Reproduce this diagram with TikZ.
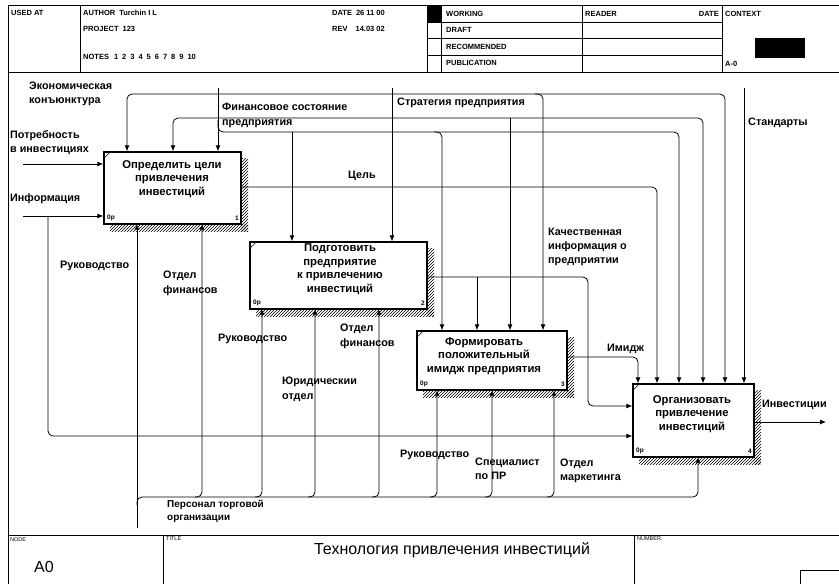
\documentclass[tikz,border=0pt]{standalone}
\usepackage{fontspec}
\setmainfont{Liberation Sans}
\usetikzlibrary{arrows.meta,patterns}
\begin{document}
\begin{tikzpicture}[x=1pt,y=-1pt,
  frame/.style={line width=0.8pt},
  fbox/.style={draw, line width=1.3pt, fill=white, inner sep=0pt},
  btxt/.style={font=\fontsize{11.3}{13.5}\selectfont\bfseries, align=center, inner sep=0pt},
  lbl/.style={font=\fontsize{10.8}{14}\selectfont\bfseries, align=left, inner sep=0pt, anchor=north west},
  hdr/.style={font=\fontsize{7.5}{8}\selectfont\bfseries, inner sep=0pt, anchor=west},
  tiny/.style={font=\fontsize{5.5}{6}\selectfont, inner sep=0pt, anchor=north west},
  small/.style={font=\fontsize{6.5}{7}\selectfont\bfseries, inner sep=0pt},
  conn/.style={line width=0.8pt, rounded corners=5pt},
  arr/.style={conn, -{Latex[length=6pt,width=5pt]}},
  marr/.style={conn, -{Latex[length=5pt,width=5pt]}},
  shad/.style={pattern=north east lines},
]
\useasboundingbox (0,0) rectangle (839,584);

% ---------- header ----------
\draw[frame] (8,5) -- (839,5);
\draw[frame] (8,5) -- (8,584);
\draw[frame] (8,72) -- (839,72);
\draw[frame] (80,5) -- (80,72);
\draw[frame] (427,5) -- (427,72);
\draw[frame] (441,5) -- (441,72);
\draw[frame] (582,5) -- (582,72);
\draw[frame] (722,5) -- (722,72);
\foreach \yy in {22,38,55} \draw[frame] (427,\yy) -- (722,\yy);
\fill (428,6) rectangle (441,22);
\fill (755,38) rectangle (805,58);

\node[hdr] (usedat) at (11,13) {USED AT};
\node[hdr] (author) at (83,13) {AUTHOR\hspace{4pt}Turchin I L};
\node[hdr] (project) at (83,29) {PROJECT\hspace{4pt}123};
\node[hdr] (notes) at (83,57) {NOTES\hspace{5pt}1\hspace{4pt}2\hspace{4pt}3\hspace{4pt}4\hspace{4pt}5\hspace{4pt}6\hspace{4pt}7\hspace{4pt}8\hspace{4pt}9\hspace{4pt}10};
\node[hdr] (date) at (332,13) {DATE\hspace{4pt}26 11 00};
\node[hdr] (rev) at (332,29) {REV\hspace{8pt}14.03 02};
\node[hdr] (working) at (446,14) {WORKING};
\node[hdr] (draft) at (446,30) {DRAFT};
\node[hdr] (recom) at (446,46.5) {RECOMMENDED};
\node[hdr] (publ) at (446,63) {PUBLICATION};
\node[hdr] (reader) at (585,14) {READER};
\node[hdr, anchor=east] (rdate) at (719,14) {DATE};
\node[hdr] (context) at (725,14) {CONTEXT};
\node[hdr] (ctxnode) at (725,64) {A-0};

% ---------- footer ----------
\draw[frame] (8,535) -- (839,535);
\draw[frame] (163,535) -- (163,584);
\draw[frame] (634,535) -- (634,584);
\draw[frame] (800,584) -- (800,570) -- (839,570);
\node[tiny] (nodel) at (10,537) {NODE};
\node[font=\fontsize{16}{18}\selectfont, inner sep=0pt] (a0) at (44,567) {A0};
\node[tiny] (titlel) at (166,537) {TITLE};
\node[font=\fontsize{16}{18}\selectfont, inner sep=0pt] (title) at (452,550) {Технология привлечения инвестиций};
\node[tiny] (numberl) at (637,537) {NUMBER.};

% ---------- shadows ----------
\fill[shad] (241,158) rectangle (248,231);
\fill[shad] (110,224) rectangle (248,231);
\fill[shad] (427,248) rectangle (434,316);
\fill[shad] (256,309) rectangle (434,316);
\fill[shad] (567,337) rectangle (574,397);
\fill[shad] (423,390) rectangle (574,397);
\fill[shad] (754,390) rectangle (761,464);
\fill[shad] (639,457) rectangle (761,464);

% ---------- boxes ----------
\node[fbox, minimum width=137pt, minimum height=72pt] (b1) at (172.5,188) {};
\node[fbox, minimum width=177pt, minimum height=67pt] (b2) at (338.5,275.5) {};
\node[fbox, minimum width=150pt, minimum height=59pt] (b3) at (492,360.5) {};
\node[fbox, minimum width=121pt, minimum height=73pt] (b4) at (693.5,420.5) {};

\foreach \bx in {b1,b2,b3,b4}
  \draw[line width=0.6pt] ([shift={(1.5,6)}]\bx.north west) -- ([shift={(6,1.5)}]\bx.north west);

\node[btxt, anchor=north] (t1) at (172,160) {Определить цели\\привлечения\\инвестиций};
\node[btxt, anchor=north] (t2) at (340,244) {Подготовить\\предприятие\\к привлечению\\инвестиций};
\node[btxt, anchor=north] (t3) at (484,337) {Формировать\\положительный\\имидж предприятия};
\node[btxt, anchor=north] (t4) at (692,395) {Организовать\\привлечение\\инвестиций};

\node[small, anchor=south west] (n1a) at (107,221) {0p};
\node[small, anchor=south east] (n1b) at (239,221) {1};
\node[small, anchor=south west] (n2a) at (253,306) {0p};
\node[small, anchor=south east] (n2b) at (425,306) {2};
\node[small, anchor=south west] (n3a) at (420,387) {0p};
\node[small, anchor=south east] (n3b) at (565,387) {3};
\node[small, anchor=south west] (n4a) at (636,454) {0p};
\node[small, anchor=south east] (n4b) at (752,454) {4};

% ---------- named free ends ----------
\coordinate (in1) at (23,164);
\coordinate (in2) at (23,216);
\coordinate (j2) at (48,216);
\coordinate (econ) at (140,94);
\coordinate (fin) at (218,88);
\coordinate (strat) at (392,88);
\coordinate (std) at (744,88);
\coordinate (jfin) at (218,120);
\coordinate (jstr) at (392,118);
\coordinate (pers) at (137,528);
\coordinate (invout) at (826,422);

% ---------- inputs ----------
\draw[arr] (in1) -- (in1 -| b1.west);
\draw[arr] (in2) -- (in2 -| b1.west);
\draw[arr] (j2) -- (48,436) -- (b4.west |- 0,436);

% ---------- controls ----------
\draw[arr] (econ) -- (127,94) -- (127,0 |- b1.north);
\draw[arr] (econ) -- (725,94) -- (725,0 |- b4.north);
\draw[arr] (535,94) -- (543,94) -- (543,0 |- b3.north);
\draw[arr] (fin) -- (fin |- b1.north);
\draw[arr] (jfin) -- (218,132) -- (679,132) -- (679,0 |- b4.north);
\draw[arr] (292,132) -- (292,0 |- b2.north);
\draw[arr] (434,132) -- (442,132) -- (442,0 |- b3.north);
\draw[arr] (strat) -- (strat |- b2.north);
\draw[arr] (jstr) -- (173,118) -- (173,0 |- b1.north);
\draw[arr] (jstr) -- (703,118) -- (703,0 |- b4.north);
\draw[arr] (510,118) -- (510,0 |- b3.north);
\draw[arr] (std) -- (std |- b4.north);

% ---------- outputs ----------
\draw[arr] (b1.east |- 0,187) -- (657,187) -- (657,0 |- b4.north);
\draw[arr] (b2.east |- 0,277) -- (588,277) -- (588,406) -- (b4.west |- 0,406);
\draw[arr] (477,277) -- (477,0 |- b3.north);
\draw[arr] (b3.east |- 0,357) -- (638,357) -- (638,0 |- b4.north);
\draw[arr] (b4.east |- 0,422) -- (invout);

% ---------- mechanisms ----------
\draw[marr] (pers) -- (pers |- b1.south);
\draw[marr] (137,505) -- (137,497) -- (698,497) -- (698,0 |- b4.south);
\foreach \x/\b in {202/b1, 262/b2, 315/b2, 379/b2, 437/b3, 492/b3, 554/b3}
  \draw[marr] (\x-7,497) -- (\x,497) -- (\x,0 |- \b.south);

% ---------- labels ----------
\node[lbl] (l1) at (29,82) {Экономическая\\конъюнктура};
\node[lbl] (l2) at (10,130) {Потребность\\в инвестициях};
\node[lbl] (l3) at (10,193) {Информация};
\node[lbl, font=\fontsize{10.8}{15}\selectfont\bfseries] (l4) at (222,103) {Финансовое состояние\\предприятия};
\node[lbl] (l5) at (397,98) {Стратегия предприятия};
\node[lbl] (l6) at (748,118) {Стандарты};
\node[lbl] (l7) at (348,171) {Цель};
\node[lbl] (l8) at (548,228) {Качественная\\информация о\\предприятии};
\node[lbl] (l9) at (607,344) {Имидж};
\node[lbl] (l10) at (762,400) {Инвестиции};
\node[lbl] (l11) at (60,261) {Руководство};
\node[lbl, font=\fontsize{10.8}{15}\selectfont\bfseries] (l12) at (163,271) {Отдел\\финансов};
\node[lbl] (l13) at (218,334) {Руководство};
\node[lbl, font=\fontsize{10.8}{15}\selectfont\bfseries] (l14) at (282,377) {Юридическии\\отдел};
\node[lbl, font=\fontsize{10.8}{15}\selectfont\bfseries] (l15) at (340,324) {Отдел\\финансов};
\node[lbl] (l16) at (400,450) {Руководство};
\node[lbl] (l17) at (475,458) {Специалист\\по ПР};
\node[lbl] (l18) at (560,459) {Отдел\\маркетинга};
\node[lbl, font=\fontsize{10}{13}\selectfont\bfseries] (l19) at (167,500) {Персонал торговой\\организации};
\end{tikzpicture}
\end{document}
